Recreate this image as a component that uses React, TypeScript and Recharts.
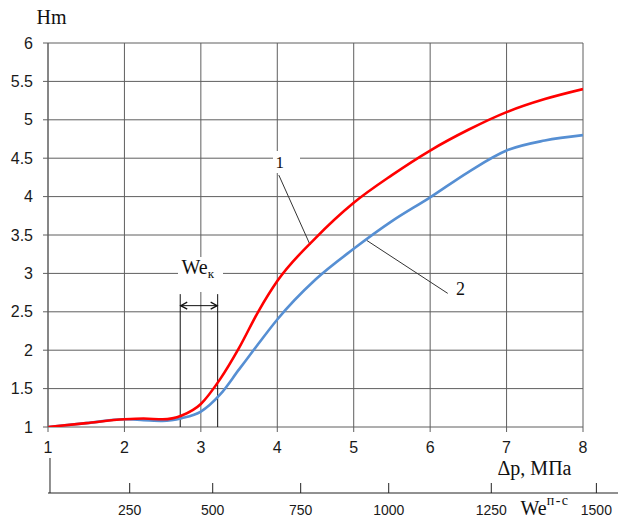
import React from 'react';
import { LineChart, Line, XAxis, YAxis, ReferenceLine } from 'recharts';

// pressure drop, MPa
const dp = [1, 1.5, 2, 2.25, 2.5, 2.75, 3, 3.25, 3.5, 3.75, 4, 4.5, 5, 5.5, 6, 6.5, 7, 7.5, 8];
// curve 1 (red) and curve 2 (blue), Hm
const hm1 = [1.0, 1.05, 1.1, 1.11, 1.1, 1.15, 1.3, 1.62, 2.03, 2.5, 2.9, 3.46, 3.92, 4.28, 4.6, 4.87, 5.1, 5.27, 5.4];
const hm2 = [1.0, 1.05, 1.1, 1.09, 1.08, 1.115, 1.2, 1.42, 1.75, 2.08, 2.4, 2.92, 3.32, 3.68, 3.99, 4.32, 4.6, 4.73, 4.8];

const dpTicks = [1, 2, 3, 4, 5, 6, 7, 8];
const hmTicks = [1, 1.5, 2, 2.5, 3, 3.5, 4, 4.5, 5, 5.5, 6];

// We(п-с) scale is not linear: tick positions given in Δp units
const weTickPos = [1.026, 2.069, 3.155, 4.306, 5.458, 6.8, 8.175];
const weTickLabels = ['', '250', '500', '750', '1000', '1250', '1500'];

// annotation lines (data units)
const leader1 = [{ x: 4.02, y: 4.28 }, { x: 4.43, y: 3.37 }];
const leader2 = [{ x: 5.17, y: 3.43 }, { x: 6.23, y: 2.74 }];
const weKBounds = [2.73, 3.22];
const weKTop = 2.73;
const weKArrowY = 2.58;

const data = dp.map((x, i) => ({ x, hm1: hm1[i], hm2: hm2[i] }));

const GRID = '#5f5f5f';
const SANS = 'Liberation Sans, Arial, sans-serif';
const SERIF = 'Liberation Serif, Times New Roman, serif';

function Arrow(props: any) {
  const { x1, y1, x2, y2 } = props;
  const h = 7;
  const w = 3.5;
  return (
    <g>
      <line x1={x1} y1={y1} x2={x2} y2={y2} stroke="#111" strokeWidth={1} />
      <path d={`M${x1 + h},${y1 - w} L${x1 + 0.5},${y1} L${x1 + h},${y1 + w}`} fill="none" stroke="#111" strokeWidth={1.3} />
      <path d={`M${x2 - h},${y2 - w} L${x2 - 0.5},${y2} L${x2 - h},${y2 + w}`} fill="none" stroke="#111" strokeWidth={1.3} />
    </g>
  );
}

function WeTick(props: any) {
  const { x, y, payload } = props;
  const i = weTickPos.indexOf(payload.value);
  const label = weTickLabels[i];
  const h = label === '' ? 35 : 10;
  return (
    <g>
      <line x1={x} x2={x} y1={y - h} y2={y} stroke="#222" strokeWidth={1} />
      <text x={x} y={y + 22} textAnchor="middle" fontSize={14} fontFamily={SANS} fill="#1a1a1a">
        {label}
      </text>
    </g>
  );
}

export default function App() {
  return (
    <div style={{ position: 'absolute', left: 0, top: 0, width: 618, height: 519, background: '#fff' }}>
      <LineChart width={618} height={519} data={data} margin={{ top: 43, right: 0, bottom: 0, left: 0 }}>
        <XAxis
          dataKey="x"
          type="number"
          domain={[1, 8]}
          allowDataOverflow
          ticks={dpTicks}
          interval={0}
          padding={{ left: 0, right: 35 }}
          height={66}
          axisLine={false}
          tickLine={{ stroke: GRID }}
          tickSize={5}
          tickMargin={10}
          tick={{ fill: '#1a1a1a', fontSize: 16, fontFamily: SANS }}
        />
        <XAxis
          xAxisId="we"
          dataKey="x"
          type="number"
          domain={[1, 8]}
          allowDataOverflow
          ticks={weTickPos}
          interval={0}
          padding={{ left: 0, right: 35 }}
          height={26}
          axisLine={{ stroke: '#222' }}
          tickLine={false}
          tickSize={0}
          tickMargin={0}
          tick={<WeTick />}
        />
        <YAxis
          type="number"
          domain={[1, 6]}
          allowDataOverflow
          ticks={hmTicks}
          interval={0}
          width={48}
          axisLine={{ stroke: GRID }}
          tickLine={{ stroke: GRID }}
          tickSize={5}
          tickMargin={10}
          tick={{ fill: '#1a1a1a', fontSize: 16, fontFamily: SANS }}
        />

        {hmTicks.map((v) => (
          <ReferenceLine key={'h' + v} segment={[{ x: 1, y: v }, { x: 8, y: v }]} stroke={GRID} strokeWidth={1} />
        ))}
        {dpTicks.map((v) => (
          <ReferenceLine key={'v' + v} x={v} stroke={GRID} strokeWidth={1} />
        ))}

        {weKBounds.map((v) => (
          <ReferenceLine key={'k' + v} segment={[{ x: v, y: 1 }, { x: v, y: weKTop }]} stroke="#111" strokeWidth={1} />
        ))}
        <ReferenceLine
          segment={[{ x: weKBounds[0], y: weKArrowY }, { x: weKBounds[1], y: weKArrowY }]}
          shape={(p: any) => <Arrow {...p} />}
        />
        <ReferenceLine segment={leader1} stroke="#333" strokeWidth={1} />
        <ReferenceLine segment={leader2} stroke="#333" strokeWidth={1} />

        <Line type="monotone" dataKey="hm2" stroke="#568fd3" strokeWidth={2.6} dot={false} isAnimationActive={false} />
        <Line type="monotone" dataKey="hm1" stroke="#ff0000" strokeWidth={2.6} dot={false} isAnimationActive={false} />
      </LineChart>

      <svg
        width={618}
        height={519}
        style={{ position: 'absolute', left: 0, top: 0, pointerEvents: 'none' }}
      >
        <text x={36.5} y={24} fontSize={20} fontFamily={SERIF} fill="#111">Hm</text>

        <rect x={273} y={151} width={27} height={22} fill="#fff" />
        <text x={275.5} y={167.5} fontSize={17} fontFamily={SERIF} fill="#111">1</text>

        <text x={456} y={295} fontSize={18} fontFamily={SERIF} fill="#111">2</text>

        <rect x={178} y={257} width={45} height={35} fill="#fff" />
        <text x={181.5} y={273.5} fontSize={20} fontFamily={SERIF} fill="#111">
          We<tspan fontSize={13} dy={4}>к</tspan>
        </text>

        <text x={497.5} y={475} fontSize={20} fontFamily={SERIF} fill="#111">Δp, МПа</text>

        <text x={520.5} y={515} fontSize={20} fontFamily={SERIF} fill="#111">
          We<tspan fontSize={14} dy={-10} letterSpacing={1.5}>п-с</tspan>
        </text>
      </svg>
    </div>
  );
}
